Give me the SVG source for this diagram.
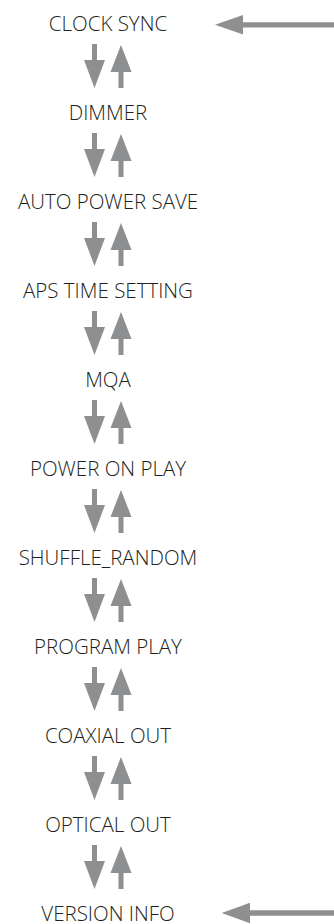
<svg xmlns="http://www.w3.org/2000/svg" xmlns:xlink="http://www.w3.org/1999/xlink" width="334" height="924" viewBox="0 0 334 924">
<style>
.lbl{font-family:"Open Sans","Liberation Sans",sans-serif;font-weight:300;font-size:20.5px;fill:#231f20;text-anchor:middle}
.arr{fill:#8e8f91}
</style>
<defs>
<g id="pair">
<polygon points="92,44 97,44 97,60 105,60 94.5,88 84,60 92,60"/>
<polygon points="121,45 131.5,72 123.5,72 123.5,88 118.5,88 118.5,72 110.5,72"/>
</g>
</defs>
<rect width="334" height="924" fill="#fff"/>
<g id="n1"><text class="lbl" x="108" y="30.7">CLOCK SYNC</text></g>
<g id="n2"><text class="lbl" x="108" y="119.7">DIMMER</text></g>
<g id="n3"><text class="lbl" x="108" y="208.7">AUTO POWER SAVE</text></g>
<g id="n4"><text class="lbl" x="108" y="297.7">APS TIME SETTING</text></g>
<g id="n5"><text class="lbl" x="108" y="386.7">MQA</text></g>
<g id="n6"><text class="lbl" x="108" y="475.7">POWER ON PLAY</text></g>
<g id="n7"><text class="lbl" x="108" y="564.7">SHUFFLE_RANDOM</text></g>
<g id="n8"><text class="lbl" x="108" y="653.7">PROGRAM PLAY</text></g>
<g id="n9"><text class="lbl" x="108" y="742.7">COAXIAL OUT</text></g>
<g id="n10"><text class="lbl" x="108" y="831.7">OPTICAL OUT</text></g>
<g id="n11"><text class="lbl" x="108" y="920.5">VERSION INFO</text></g>
<g id="connectors" class="arr">
<use xlink:href="#pair" href="#pair"/>
<use xlink:href="#pair" href="#pair" y="89"/>
<use xlink:href="#pair" href="#pair" y="178"/>
<use xlink:href="#pair" href="#pair" y="267"/>
<use xlink:href="#pair" href="#pair" y="356"/>
<use xlink:href="#pair" href="#pair" y="445"/>
<use xlink:href="#pair" href="#pair" y="534"/>
<use xlink:href="#pair" href="#pair" y="623"/>
<use xlink:href="#pair" href="#pair" y="712"/>
<use xlink:href="#pair" href="#pair" y="801"/>
<polygon points="215,24.8 243,15 243,22.3 334,22.3 334,27.5 243,27.5 243,34.6"/>
<polygon points="221.7,913 250,902.7 250,910.3 334,910.3 334,915.7 250,915.7 250,923.3"/>
</g>
</svg>
